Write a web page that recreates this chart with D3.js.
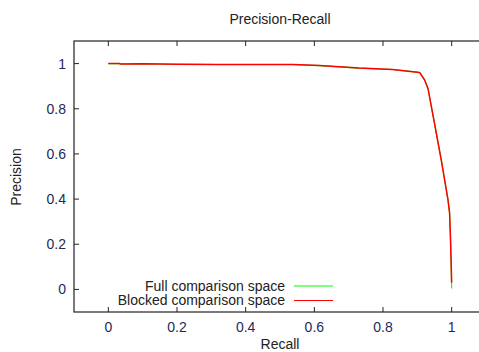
<!DOCTYPE html>
<html>
<head>
<meta charset="utf-8">
<script src="https://cdn.jsdelivr.net/npm/d3@7"></script>
<style>
  body { margin: 0; background: #fff; }
  svg { display: block; font-family: "Liberation Sans", Arial, sans-serif; }
</style>
</head>
<body>
<svg width="479" height="352"></svg>
<script>
const recall = [0, 0.032, 0.035, 0.1, 0.2, 0.32, 0.45, 0.537, 0.615, 0.73, 0.828, 0.9, 0.907, 0.921, 0.931, 0.95, 0.97, 0.989, 0.994, 0.997, 1.0];
const precisionFull = [1.0, 1.0, 0.998, 0.999, 0.997, 0.996, 0.996, 0.996, 0.991, 0.98, 0.974, 0.962, 0.96, 0.928, 0.89, 0.735, 0.57, 0.40, 0.338, 0.204, 0.004];
const precisionBlocked = [1.0, 1.0, 0.998, 0.999, 0.997, 0.996, 0.996, 0.996, 0.991, 0.98, 0.974, 0.962, 0.96, 0.928, 0.89, 0.735, 0.57, 0.40, 0.338, 0.204, 0.03];
const xTicks = [0, 0.2, 0.4, 0.6, 0.8, 1];
const yTicks = [0, 0.2, 0.4, 0.6, 0.8, 1];
const seriesNames = ['Full comparison space', 'Blocked comparison space'];
const seriesColors = ['#00ff00', '#ff0000'];

const svg = d3.select('svg');
const margin = {top: 41, left: 74, right: 486, bottom: 312};

const x = d3.scaleLinear().domain([-0.1, 1.1]).range([margin.left, margin.right]);
const y = d3.scaleLinear().domain([-0.1, 1.1]).range([margin.bottom, margin.top]);

const tickColor = '#1d2a5c';
const textColor = '#222';

// frame
svg.append('rect')
    .attr('x', margin.left).attr('y', margin.top)
    .attr('width', margin.right - margin.left)
    .attr('height', margin.bottom - margin.top)
    .attr('fill', 'none').attr('stroke', '#222').attr('stroke-width', 1.2);

// inward ticks
const tk = 5;
svg.append('g').selectAll('line.xb').data(xTicks).enter().append('line')
    .attr('x1', d => x(d)).attr('x2', d => x(d))
    .attr('y1', margin.bottom).attr('y2', margin.bottom - tk)
    .attr('stroke', '#222');
svg.append('g').selectAll('line.xt').data(xTicks).enter().append('line')
    .attr('x1', d => x(d)).attr('x2', d => x(d))
    .attr('y1', margin.top).attr('y2', margin.top + tk)
    .attr('stroke', '#222');
svg.append('g').selectAll('line.yl').data(yTicks).enter().append('line')
    .attr('y1', d => y(d)).attr('y2', d => y(d))
    .attr('x1', margin.left).attr('x2', margin.left + tk)
    .attr('stroke', '#222');

svg.append('g').selectAll('text').data(xTicks).enter().append('text')
    .attr('x', d => x(d)).attr('y', 332)
    .attr('text-anchor', 'middle')
    .attr('font-size', 14).attr('fill', tickColor)
    .text(d => d3.format('~g')(d));
svg.append('g').selectAll('text').data(yTicks).enter().append('text')
    .attr('x', 66).attr('y', d => y(d) + 5)
    .attr('text-anchor', 'end')
    .attr('font-size', 14).attr('fill', tickColor)
    .text(d => d3.format('~g')(d));

// titles
svg.append('text').attr('x', 280).attr('y', 24)
    .attr('text-anchor', 'middle').attr('font-size', 14).attr('fill', textColor)
    .text('Precision-Recall');
svg.append('text').attr('x', 280).attr('y', 349)
    .attr('text-anchor', 'middle').attr('font-size', 14).attr('fill', textColor)
    .text('Recall');
svg.append('text').attr('transform', 'translate(21,177) rotate(-90)')
    .attr('text-anchor', 'middle').attr('font-size', 14).attr('fill', textColor)
    .text('Precision');

// curves: green underneath, red drawn on top
const line = d3.line().x(d => x(d[0])).y(d => y(d[1]));
[precisionFull, precisionBlocked].forEach((p, i) => {
  svg.append('path')
      .datum(recall.map((r, j) => [r, p[j]]))
      .attr('d', line)
      .attr('fill', 'none')
      .attr('stroke', seriesColors[i])
      .attr('stroke-width', i === 0 ? 1.1 : 1.5);
});

// legend
const legend = svg.append('g');
seriesNames.forEach((name, i) => {
  const ly = 286 + i * 14.5;
  legend.append('text').attr('x', 285).attr('y', ly + 4.5)
      .attr('text-anchor', 'end').attr('font-size', 14).attr('fill', textColor)
      .text(name);
  legend.append('line').attr('x1', 294).attr('x2', 333)
      .attr('y1', ly).attr('y2', ly)
      .attr('stroke', seriesColors[i]).attr('stroke-width', 1.2);
});
</script>
</body>
</html>
